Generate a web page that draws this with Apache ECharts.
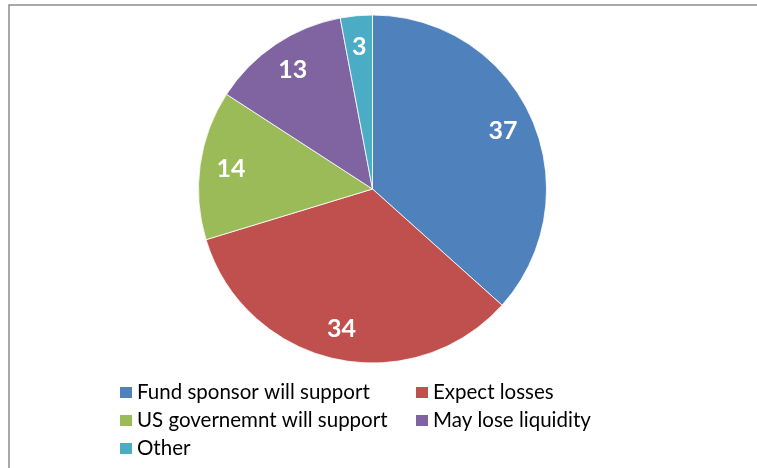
<!DOCTYPE html>
<html>
<head>
<meta charset="utf-8">
<script src="https://cdn.jsdelivr.net/npm/echarts@6/dist/echarts.min.js"></script>
<style>
html,body{margin:0;padding:0;background:#fff;}
#chart{width:757px;height:468px;}
</style>
</head>
<body>
<div id="chart"></div>
<script>
const categories = ["Fund sponsor will support", "Expect losses", "US governemnt will support", "May lose liquidity", "Other"];
const values = [37, 34, 14, 13, 3];
const colors = ["#4F81BD", "#C0504D", "#9BBB59", "#8064A2", "#4BACC6"];
const legendCol1 = ["Fund sponsor will support", "US governemnt will support", "Other"];
const legendCol2 = ["Expect losses", "May lose liquidity"];

const chart = echarts.init(document.getElementById('chart'), null, {renderer: 'canvas'});
const pieData = categories.map((c, i) => ({name: c, value: values[i], itemStyle: {color: colors[i]}}));
const labelData = categories.map((c, i) => ({name: c, value: values[i]}));
const legendBase = {
  orient: 'vertical',
  top: 382,
  icon: 'rect',
  itemWidth: 14,
  itemHeight: 13,
  itemGap: 7,
  selectedMode: false,
  textStyle: {fontFamily: 'Lato', fontSize: 20.5, color: '#000', lineHeight: 20, padding: [0, 0, 0, -1]},
  padding: 0
};
chart.setOption({
  animation: false,
  backgroundColor: '#fff',
  graphic: [{
    type: 'rect',
    shape: {x: 9, y: 5, width: 800, height: 500},
    style: {fill: null, stroke: '#8c8c8c', lineWidth: 1.5},
    silent: true
  }],
  legend: [
    Object.assign({}, legendBase, {left: 118, data: legendCol1}),
    Object.assign({}, legendBase, {left: 414, data: legendCol2})
  ],
  series: [{
    type: 'pie',
    center: [372.5, 189],
    radius: [0, 174],
    startAngle: 90,
    clockwise: true,
    silent: true,
    label: {show: false},
    labelLine: {show: false},
    itemStyle: {borderColor: '#fff', borderWidth: 0.8},
    emphasis: {disabled: true},
    data: pieData
  }, {
    type: 'pie',
    center: [372.5, 189],
    radius: [106, 174],
    startAngle: 90,
    clockwise: true,
    silent: true,
    itemStyle: {color: 'rgba(0,0,0,0)'},
    label: {show: true, position: 'inside', formatter: '{c}', color: '#fff', fontFamily: 'Lato', fontWeight: 'bold', fontSize: 25},
    labelLine: {show: false},
    emphasis: {disabled: true},
    data: labelData
  }]
});
</script>
</body>
</html>
